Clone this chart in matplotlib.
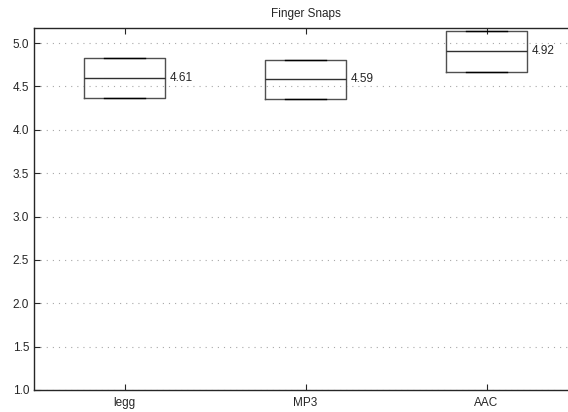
import numpy as np
import matplotlib
matplotlib.use('Agg')
import matplotlib.pyplot as plt

plt.rcParams['font.family'] = ['Liberation Sans', 'DejaVu Sans']

# --- datos ---
codecs = ['legg', 'MP3', 'AAC']
q1 = [4.37, 4.35, 4.67]
medianas = [4.60, 4.58, 4.91]
q3 = [4.83, 4.81, 5.14]
etiquetas = ['4.61', '4.59', '4.92']
yticks = [1.0, 1.5, 2.0, 2.5, 3.0, 3.5, 4.0, 4.5, 5.0]

W, H = 568, 412
fig = plt.figure(figsize=(W / 100, H / 100), dpi=100)
# el eje derecho queda fuera de la imagen, como en el original
ax = fig.add_axes([34 / W, 1 - 390 / H, (577 - 34) / W, (390 - 28.3) / H])

stats = []
for i in range(len(codecs)):
    stats.append(dict(q1=q1[i], med=medianas[i], q3=q3[i],
                      whislo=q1[i], whishi=q3[i], fliers=[], label=codecs[i]))

pos = np.arange(1, len(codecs) + 1)
ax.bxp(stats, positions=pos, widths=0.45, showfliers=False,
       boxprops=dict(color='#505050', linewidth=1.0),
       medianprops=dict(color='#303030', linewidth=1.0),
       whiskerprops=dict(color='k', linewidth=1.0),
       capprops=dict(color='k', linewidth=1.0),
       capwidths=0.225)

for p, m, t in zip(pos, medianas, etiquetas):
    ax.text(p + 0.25, m, t, fontsize=8.5, va='center', ha='left', color='#262626')

ax.set_xlim(0.5, 3.5)
ax.set_ylim(1.0, 5.17)
ax.set_yticks(yticks)
ax.set_yticklabels([f'{v:.1f}' for v in yticks])
ax.set_xticks(pos)
ax.set_xticklabels(codecs)
ax.tick_params(direction='in', length=4, width=0.8, labelsize=8.5,
               colors='#262626', top=True, right=True)
ax.tick_params(axis='x', pad=5)
ax.grid(axis='y', linestyle=(0, (1, 4.5)), linewidth=0.8, color='#a8a8a8')
ax.set_axisbelow(True)
for s in ax.spines.values():
    s.set_color('#262626')
    s.set_linewidth(1.0)

ax.set_title('Finger Snaps', fontsize=8.5, color='#262626', pad=8)

fig.savefig('out.png', dpi=100)
